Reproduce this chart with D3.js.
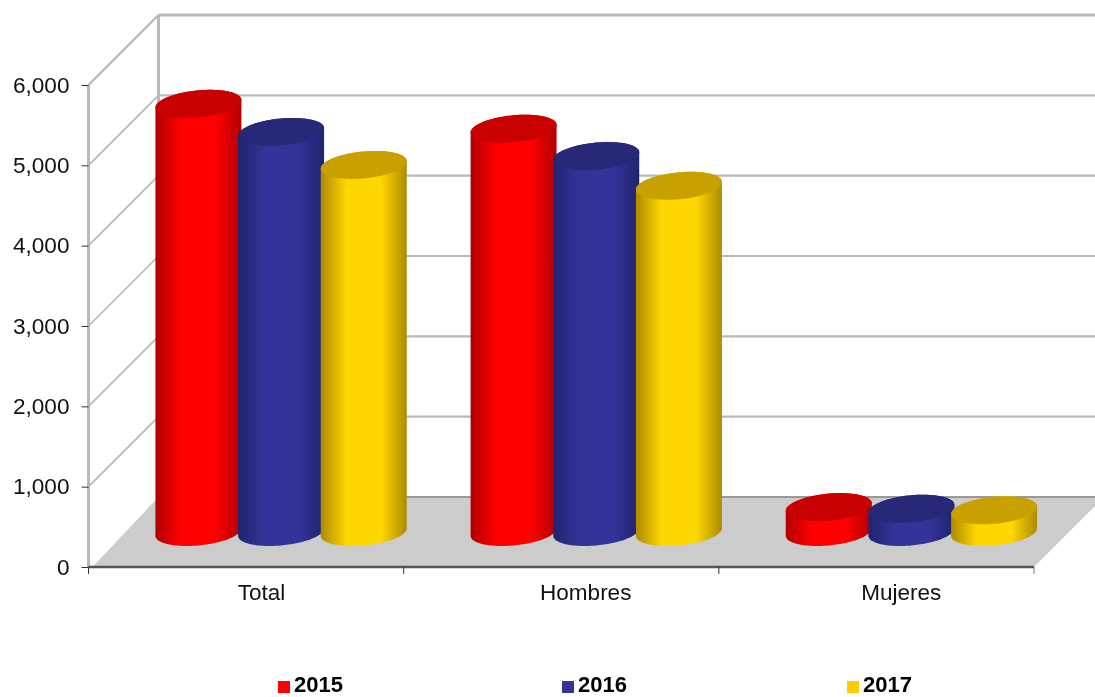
<!DOCTYPE html>
<html><head><meta charset="utf-8">
<script src="https://cdn.jsdelivr.net/npm/d3@7/dist/d3.min.js"></script>
<style>html,body{margin:0;padding:0;background:#fff}svg{display:block;filter:blur(0.45px)}text{font-family:"Liberation Sans",Arial,sans-serif;fill:#111}</style>
</head><body><svg id="c" width="1095" height="697"></svg>
<script>
const categories = ["Total","Hombres","Mujeres"];
const years = ["2015","2016","2017"];
const v2015 = [5330,5020,310];
const v2016 = [4980,4680,290];
const v2017 = [4570,4310,270];
const yTicks = [0,1000,2000,3000,4000,5000,6000];
const baseColors = ["#ff0000","#333399","#ffd700"];
const edgeColors = ["#b00000","#20246e","#ad8a00"];
const topColors  = ["#c80000","#282878","#c8a000"];
const legendColors = ["#ff0000","#333399","#ffcc00"];
const labelShift = [15.5,24.5,24.8];
const legendX = [278,562,847];

const series = [v2015,v2016,v2017];
const svg = d3.select("#c");
const depth = 70, gridCol = "#b9b9b9";
const x = d3.scaleBand().domain(categories).range([88.5,1034]);
const y = d3.scaleLinear().domain([0,6000]).range([567,85]);
const inner = d3.scaleBand().domain(years).range([-124,124]).paddingInner(0).paddingOuter(0);

// gradients
const defs = svg.append("defs");
years.forEach((yr,i)=>{
  const g = defs.append("linearGradient").attr("id","g"+yr);
  [[0,edgeColors[i]],[.3,baseColors[i]],[.7,baseColors[i]],[1,edgeColors[i]]].forEach(s=>
    g.append("stop").attr("offset",s[0]).attr("stop-color",s[1]));
});

// floor
const xr = x.range();
svg.append("path").attr("fill","#cccccc")
  .attr("d",d3.line()([[xr[0]+4,y(0)],[xr[0]+depth,y(0)-depth],[xr[1]+depth,y(0)-depth],[xr[1],y(0)]]));

// walls and grid
const grid = svg.append("g").attr("fill","none").attr("stroke",gridCol);
yTicks.forEach(t=>{
  const py = y(t);
  if(t>0) grid.append("line").attr("stroke-width",t===6000?2.4:1.7)
    .attr("x1",xr[0]).attr("y1",py).attr("x2",xr[0]+depth).attr("y2",py-depth);
  if(t>0) grid.append("line").attr("stroke-width",t===6000?3:2.2)
    .attr("x1",xr[0]+depth).attr("y1",py-depth).attr("x2",1095).attr("y2",py-depth);
});
grid.append("line").attr("x1",xr[0]).attr("x2",xr[0]).attr("y1",y(6000)).attr("y2",y(0)).attr("stroke-width",3);
grid.append("line").attr("x1",xr[0]+depth).attr("x2",xr[0]+depth).attr("y1",y(6000)-depth).attr("y2",y(0)-depth).attr("stroke-width",3);
svg.append("line").attr("x1",xr[0]+depth).attr("x2",1095).attr("y1",y(0)-depth).attr("y2",y(0)-depth).attr("stroke","#999").attr("stroke-width",2);

// cylinders
const X = 43, Y = 14, phi = Math.acos(-0.27);
const ell = (cx,cy,t)=>[cx+X*Math.cos(t), cy+Y*Math.cos(t+phi)];
const line = d3.line();
const N = 72;
categories.forEach((c,ci)=>{
  years.forEach((yr,si)=>{
    const cx = x(c)+x.bandwidth()/2+depth/2+inner(yr)+inner.bandwidth()/2;
    const base = y(0)-depth/2;
    const top = y(series[si][ci])-depth/2;
    const lower = d3.range(N+1).map(k=>ell(cx,base,-Math.PI*k/N));
    const upper = d3.range(N+1).map(k=>ell(cx,top,Math.PI-Math.PI*k/N));
    svg.append("path").attr("fill",`url(#g${yr})`).attr("d",line(lower.concat(upper))+"Z");
    const cap = d3.range(2*N).map(k=>ell(cx,top,Math.PI*k/N));
    svg.append("path").attr("fill",topColors[si]).attr("d",line(cap)+"Z");
  });
});

// axes
const yAxis = d3.axisLeft(y).tickValues(yTicks).tickFormat(d3.format(",")).tickSize(7).tickPadding(12);
const gy = svg.append("g").attr("transform",`translate(${xr[0]},0)`).call(yAxis);
gy.select(".domain").remove();
gy.selectAll("line").attr("stroke","#333");
gy.selectAll("text").style("font-size","22.6px");

const xAxis = d3.axisBottom(x).tickSize(0).tickPadding(17);
const gx = svg.append("g").attr("transform",`translate(0,${y(0)})`).call(xAxis);
gx.select(".domain").remove();
gx.selectAll("text").style("font-size","22.5px").attr("dx",(d,i)=>labelShift[i]);
svg.append("line").attr("x1",xr[0]).attr("x2",xr[1]).attr("y1",y(0)).attr("y2",y(0)).attr("stroke","#555").attr("stroke-width",2.4);
categories.forEach(c=>{
  svg.append("line").attr("x1",x(c)).attr("x2",x(c)).attr("y1",y(0)).attr("y2",y(0)+7).attr("stroke","#333");
});
svg.append("line").attr("x1",xr[1]).attr("x2",xr[1]).attr("y1",y(0)).attr("y2",y(0)+7).attr("stroke","#777");

// legend
years.forEach((yr,i)=>{
  svg.append("rect").attr("x",legendX[i]).attr("y",681).attr("width",12).attr("height",12).attr("fill",legendColors[i]);
  svg.append("text").attr("x",legendX[i]+16).attr("y",692).style("font-size","22px").style("font-weight","bold").style("fill","#000").text(yr);
});
</script></body></html>
